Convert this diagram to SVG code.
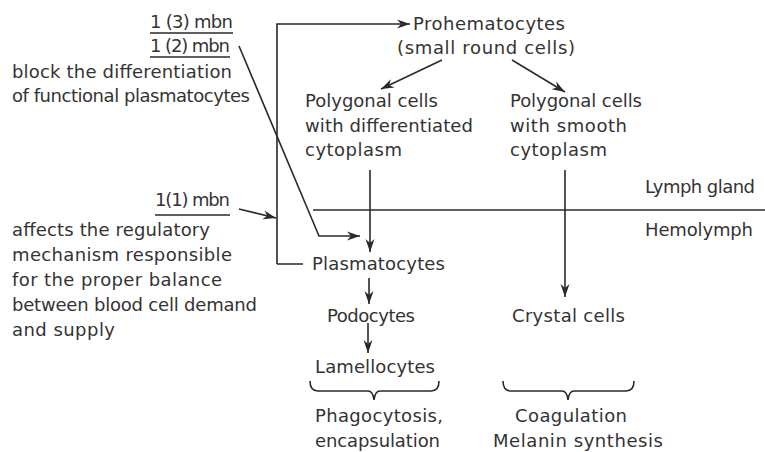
<svg xmlns="http://www.w3.org/2000/svg" width="765" height="452" viewBox="0 0 765 452">
<defs>
<marker id="ah" markerUnits="userSpaceOnUse" markerWidth="14" markerHeight="10" viewBox="0 0 14 10" refX="13" refY="5" orient="auto">
<path d="M0,0.5 L13,5 L0,9.5 L4,5 Z" fill="#2a2a2a"/>
</marker>
<style>
text{font-family:"DejaVu Sans","Liberation Sans",sans-serif;font-size:18px;fill:#333333;font-weight:400}
.ln{fill:none;stroke:#2a2a2a;stroke-width:1.6}
.ar{fill:none;stroke:#2a2a2a;stroke-width:1.6;marker-end:url(#ah)}
</style>
</defs>
<rect width="765" height="452" fill="#ffffff"/>
<g id="connectors">
<path class="ln" d="M150,33 H233 M150,57 H230 M155,215 H230"/>
<path class="ar" d="M277,264 H303 M277,264 V24 H410"/>
<path class="ar" d="M239,46 L319,236 H360"/>
<path class="ar" d="M239,209 L276,218"/>
<path class="ar" d="M442,60 L381,89"/>
<path class="ar" d="M512,60 L565,92"/>
<path class="ln" d="M313,210 H765"/>
<path class="ar" d="M370,170 V252"/>
<path class="ar" d="M565,170 V297"/>
<path class="ar" d="M369,278 V304"/>
<path class="ar" d="M368,323 V353"/>
<path class="ln" d="M310,381 Q310,391 318,391 H368 Q373,391 374,400 Q375,391 380,391 H431 Q439,391 439,381"/>
<path class="ln" d="M503,381 Q503,391 511,391 H562 Q567,391 568,400 Q569,391 574,391 H626 Q634,391 634,381"/>
</g>
<g id="mbn3"><text x="150" y="28" textLength="83">1 (3) mbn</text></g>
<g id="mbn2"><text x="150" y="52" textLength="80">1 (2) mbn</text>
<text x="12" y="78" textLength="220">block the differentiation</text>
<text x="12" y="102" textLength="238">of functional plasmatocytes</text></g>
<g id="mbn1"><text x="155" y="206" textLength="75">1(1) mbn</text>
<text x="12" y="236" textLength="198">affects the regulatory</text>
<text x="12" y="261" textLength="220">mechanism responsible</text>
<text x="12" y="286" textLength="210">for the proper balance</text>
<text x="12" y="311" textLength="245">between  blood cell demand</text>
<text x="12" y="336" textLength="103">and supply</text></g>
<g id="prohematocytes"><text x="413" y="30" textLength="152">Prohematocytes</text>
<text x="397" y="54" textLength="178">(small round cells)</text></g>
<g id="polygonal-diff"><text x="305" y="107" textLength="133">Polygonal cells</text>
<text x="305" y="132" textLength="168">with differentiated</text>
<text x="305" y="156" textLength="97">cytoplasm</text></g>
<g id="polygonal-smooth"><text x="510" y="107" textLength="132">Polygonal cells</text>
<text x="510" y="132" textLength="117">with smooth</text>
<text x="510" y="156" textLength="97">cytoplasm</text></g>
<g id="lymph-gland"><text x="645" y="193" textLength="110">Lymph gland</text></g>
<g id="hemolymph"><text x="645" y="236" textLength="108">Hemolymph</text></g>
<g id="plasmatocytes"><text x="312" y="270" textLength="133">Plasmatocytes</text></g>
<g id="podocytes"><text x="327" y="322" textLength="88">Podocytes</text></g>
<g id="crystal-cells"><text x="512" y="322" textLength="113">Crystal cells</text></g>
<g id="lamellocytes"><text x="315" y="373" textLength="120">Lamellocytes</text></g>
<g id="phagocytosis"><text x="315" y="422" textLength="128">Phagocytosis,</text>
<text x="315" y="447" textLength="125">encapsulation</text></g>
<g id="coagulation"><text x="515" y="422" textLength="112">Coagulation</text>
<text x="493" y="447" textLength="170">Melanin synthesis</text></g>
</svg>
